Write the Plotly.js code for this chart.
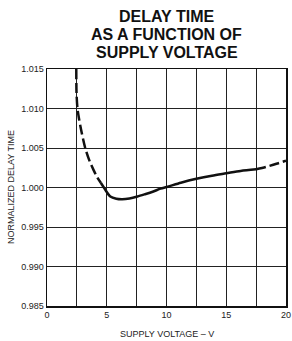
<!DOCTYPE html>
<html><head><meta charset="utf-8">
<script src="https://cdn.plot.ly/plotly-3.0.1.min.js"></script>
<style>html,body{margin:0;padding:0;background:#fff}#c{width:292px;height:341px}</style>
</head><body><div id="c"></div>
<script>
// Dashed start segment (low voltage)
const vLow = [2.45, 2.47, 2.55, 2.68, 2.84, 3.2, 3.55, 3.9, 4.2, 4.5];
const dLow = [1.015, 1.012, 1.010, 1.0087, 1.0074, 1.0050, 1.0034, 1.0022, 1.0013, 1.0006];
// Solid middle segment
const vMid = [4.5, 4.8, 5.3, 5.8, 6.3, 6.9, 7.57, 8.2, 8.9, 9.5, 10.1, 11.2, 12.5, 13.8, 15, 16.2, 17.5];
const dMid = [1.0006, 0.9999, 0.99886, 0.99858, 0.99852, 0.99862, 0.99886, 0.99915, 0.99950, 0.99985, 1.0001, 1.0006, 1.0011, 1.0015, 1.0018, 1.0021, 1.0023];
// Dashed end segment (high voltage)
const vHigh = [17.5, 18.3, 19.2, 20];
const dHigh = [1.0023, 1.0026, 1.0030, 1.0034];

const xTicks = [0, 5, 10, 15, 20];
const yTicks = [0.985, 0.990, 0.995, 1.000, 1.005, 1.010, 1.015];
const titleLines = ["DELAY TIME", "AS A FUNCTION OF", "SUPPLY VOLTAGE"];
const xLabel = "SUPPLY VOLTAGE – V";
const yLabel = "NORMALIZED DELAY TIME";

const lineStyle = {color: '#111', width: 2.5, shape: 'spline', smoothing: 0.8};
const traces = [
  {x: vLow, y: dLow, mode: 'lines', line: Object.assign({}, lineStyle, {dash: '10px,4px'}), hoverinfo: 'skip'},
  {x: vMid, y: dMid, mode: 'lines', line: lineStyle, hoverinfo: 'skip'},
  {x: vHigh, y: dHigh, mode: 'lines', line: Object.assign({}, lineStyle, {dash: '10px,4px'}), hoverinfo: 'skip'}
];

const tickFont = {family: 'Liberation Sans, Arial, sans-serif', size: 9, color: '#222'};
const titleYs = [1.2215, 1.1456, 1.0696];
const annotations = titleLines.map((t, i) => ({
  text: '<b>' + t + '</b>', xref: 'paper', yref: 'paper', x: 0.5, y: titleYs[i],
  xanchor: 'center', yanchor: 'middle', showarrow: false, borderpad: 0,
  font: {family: 'Liberation Sans, Arial, sans-serif', size: 16, color: '#111'}
}));
annotations.push({text: yLabel, xref: 'paper', yref: 'paper', x: -0.1527, y: 0.5,
  xanchor: 'center', yanchor: 'middle', textangle: -90, showarrow: false, font: tickFont});
annotations.push({text: xLabel, xref: 'paper', yref: 'paper', x: 0.5, y: -0.12,
  xanchor: 'center', yanchor: 'middle', showarrow: false, font: tickFont});

const layout = {
  width: 292, height: 341,
  margin: {l: 47, r: 6, t: 69, b: 35},
  paper_bgcolor: '#fff', plot_bgcolor: '#fff',
  showlegend: false,
  xaxis: {
    range: [0, 20], tickvals: xTicks, ticktext: xTicks.map(String),
    showgrid: true, gridcolor: '#222', gridwidth: 1,
    minor: {dtick: 2.5, tick0: 0, showgrid: true, gridcolor: '#222', gridwidth: 1},
    zeroline: false, showline: true, mirror: true, linecolor: '#111', linewidth: 1.5,
    ticks: '', tickfont: tickFont, fixedrange: true
  },
  yaxis: {
    range: [0.985, 1.015], tickvals: yTicks, ticktext: yTicks.map(v => v.toFixed(3)),
    showgrid: true, gridcolor: '#222', gridwidth: 1,
    zeroline: false, showline: true, mirror: true, linecolor: '#111', linewidth: 1.5,
    ticks: '', tickfont: tickFont, fixedrange: true
  },
  annotations: annotations
};
Plotly.newPlot('c', traces, layout, {staticPlot: true, displayModeBar: false});
</script></body></html>
